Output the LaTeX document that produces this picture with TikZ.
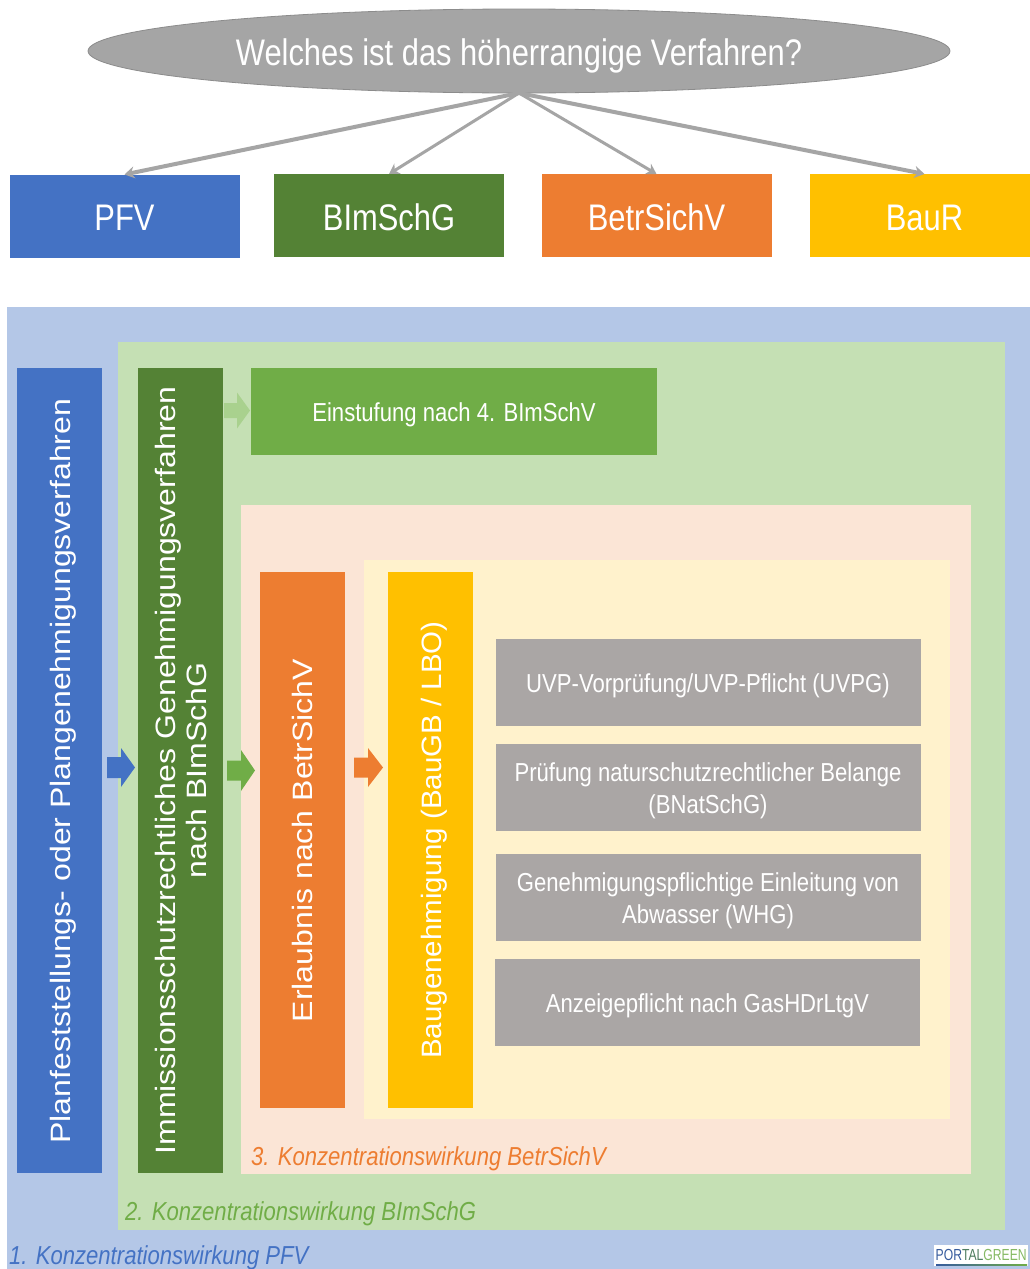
\documentclass[tikz,border=0pt]{standalone}
\usepackage{fontspec}
\setmainfont{Liberation Sans}
\usetikzlibrary{shapes.geometric,arrows.meta}
\definecolor{cblue}{HTML}{4472C4}
\definecolor{cgreen}{HTML}{548235}
\definecolor{cgreenb}{HTML}{70AD47}
\definecolor{corange}{HTML}{ED7D31}
\definecolor{cyellow}{HTML}{FFC000}
\definecolor{cgrey}{HTML}{A5A5A5}
\definecolor{cgreybox}{HTML}{AAA6A5}
\definecolor{bgblue}{HTML}{B4C7E7}
\definecolor{bggreen}{HTML}{C5E0B4}
\definecolor{bgorange}{HTML}{FBE5D6}
\definecolor{bgyellow}{HTML}{FFF2CC}
\definecolor{lgreen}{HTML}{A9D18E}
\newcommand{\cs}[1]{\scalebox{0.85}[1]{#1}}
\newcommand{\hs}[1]{\raisebox{-4pt}[\height][\depth]{\scalebox{0.85}[1]{#1}}}
\newcommand{\ts}[1]{\raisebox{-2pt}[\height][\depth]{\scalebox{0.835}[1]{#1}}}
\newcommand{\vs}[1]{\scalebox{1.145}[1]{#1}}
% x start, x head, x tip, y centre, shaft half, head half, colour
\newcommand{\blockarrow}[7]{\fill[#7] (#1,#4-#5) -- (#2,#4-#5) -- (#2,#4-#6) -- (#3,#4) -- (#2,#4+#6) -- (#2,#4+#5) -- (#1,#4+#5) -- cycle;}
\tikzset{
 x=1pt,y=-1pt,
 panel/.style={inner sep=0pt,outer sep=0pt,draw=none},
 topbox/.style={panel,anchor=center,text=white,font=\fontsize{37}{40}\selectfont,minimum height=83pt,minimum width=230pt},
 vbox/.style={panel,anchor=center,minimum width=85pt},
 vtext/.style={text=white,align=center,rotate=90,inner sep=0pt,font=\fontsize{28}{32}\selectfont},
 greybox/.style={panel,anchor=center,fill=cgreybox,text=white,align=center,minimum width=425pt,minimum height=87pt,font=\fontsize{26}{32}\selectfont},
 conn/.style={draw=cgrey,-{Stealth[length=10pt,width=12pt]}},
 caption/.style={anchor=west,inner sep=0pt,font=\itshape\fontsize{26}{28}\selectfont},
}
\begin{document}
\begin{tikzpicture}
\useasboundingbox (0,0) rectangle (1030,1269);
\fill[white] (0,0) rectangle (1030,1269);
% top
\node[ellipse,draw=cgrey!85!black,line width=0.8pt,fill=cgrey,minimum width=862pt,minimum height=84pt,inner sep=0pt] (q) at (519,51) {};
\node[text=white,inner sep=0pt,font=\fontsize{37}{40}\selectfont] (qt) at (519,56) {\scalebox{0.835}[1]{Welches ist das höherrangige Verfahren?}};
\node[topbox,fill=cblue] (pfv) at (124.5,216) {\ts{PFV}};
\node[topbox,fill=cgreen] (bim) at (389,215.5) {\ts{BImSchG}};
\node[topbox,fill=corange] (betr) at (656.5,215.5) {\ts{BetrSichV}};
\node[topbox,fill=cyellow] (baur) at (924.5,215.5) {\ts{BauR}};
\coordinate (qs) at (519,93);
\draw[conn,line width=4pt] (qs) -- (pfv.north);
\draw[conn,line width=3pt] (qs) -- (bim.north);
\draw[conn,line width=3pt] (qs) -- (betr.north);
\draw[conn,line width=4pt] (qs) -- (baur.north);
% panels
\fill[bgblue] (7,307) rectangle (1030,1269);
\fill[bggreen] (118,342) rectangle (1005,1230);
\fill[bgorange] (241,505) rectangle (971,1174);
\fill[bgyellow] (364,560) rectangle (950,1119);
% vertical bars
\node[vbox,fill=cblue,minimum height=805pt] (v1) at (59,770.5) {};
\node[vtext] (t1) at (63,771) {\vs{Planfeststellungs- oder Plangenehmigungsverfahren}};
\node[vbox,fill=cgreen,minimum height=805pt] (v2) at (180,770.5) {};
\node[vtext] (t2) at (185,770.5) {\vs{\begin{tabular}{@{}c@{}}Immissionsschutzrechtliches Genehmigungsverfahren\\[-1pt]nach BImSchG\end{tabular}}};
\node[vbox,fill=corange,minimum height=536pt] (v3) at (302.5,840) {};
\node[vtext] (t3) at (302.5,840.5) {\vs{Erlaubnis nach BetrSichV}};
\node[vbox,fill=cyellow,minimum height=536pt] (v4) at (430.5,840) {};
\node[vtext] (t4) at (434,840) {\scalebox{1.053}[1]{Baugenehmigung (BauGB / LBO)}};
% Einstufung
\node[panel,anchor=center,fill=cgreenb,text=white,minimum width=406pt,minimum height=87pt,font=\fontsize{26}{30}\selectfont] (ein) at (454,411) {\hs{Einstufung nach 4. BImSchV}};
% block arrows
\blockarrow{224}{237}{250}{410.5}{7.5}{18}{lgreen}
\blockarrow{107}{121}{135}{767.5}{10.5}{19.5}{cblue}
\blockarrow{227}{241}{255}{770.5}{10}{20.5}{cgreenb}
\blockarrow{354}{368}{383}{767.5}{10}{19.5}{corange}
% grey boxes
\node[greybox] (g1) at (708,682) {\hs{UVP-Vorprüfung/UVP-Pflicht (UVPG)}};
\node[greybox] (g2) at (708,787.5) {\hs{\begin{tabular}{@{}c@{}}Prüfung naturschutzrechtlicher Belange\\(BNatSchG)\end{tabular}}};
\node[greybox] (g3) at (708,897) {\hs{\begin{tabular}{@{}c@{}}Genehmigungspflichtige Einleitung von\\Abwasser (WHG)\end{tabular}}};
\node[greybox] (g4) at (707.5,1002) {\hs{Anzeigepflicht nach GasHDrLtgV}};
% captions
\node[caption,text=corange] (c3) at (251,1159) {\cs{3. Konzentrationswirkung BetrSichV}};
\node[caption,text=cgreenb] (c2) at (125,1214) {\cs{2. Konzentrationswirkung BImSchG}};
\node[caption,text=cblue] (c1) at (9,1258) {\cs{1. Konzentrationswirkung PFV}};
% logo
\fill[white] (934,1245) rectangle (1028,1266);
\fill[left color=cblue!80!black,right color=cgreenb] (936,1264) rectangle (1027,1265);
\node[anchor=west,inner sep=0pt,font=\fontsize{16}{17}\selectfont] (logo) at (935.5,1254.5) {\scalebox{0.76}[1]{\textcolor{cblue!80!black}{POR}\textcolor{cgreen!70!cblue}{TAL}\textcolor{cgreenb!85!white}{GREEN}}};
\end{tikzpicture}
\end{document}
